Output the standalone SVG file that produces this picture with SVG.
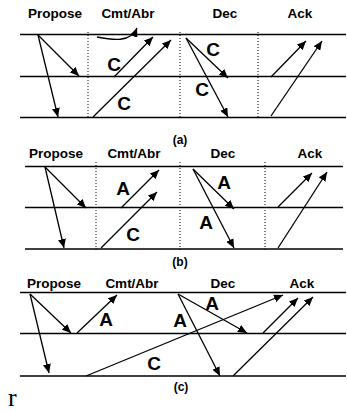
<svg xmlns="http://www.w3.org/2000/svg" width="347" height="411" viewBox="0 0 347 411">
<style>
.lbl{font-family:"Liberation Sans",Arial,sans-serif;font-weight:bold;font-size:13.5px;fill:#000}
.big{font-family:"Liberation Sans",Arial,sans-serif;font-weight:bold;font-size:19px;fill:#000}
.cap{font-family:"Liberation Sans",Arial,sans-serif;font-weight:bold;font-size:12px;fill:#000}
.hl{stroke:#000;stroke-width:1.6;fill:none}
.dl{stroke:#000;stroke-width:1;stroke-dasharray:1 2;fill:none}
.ar{stroke:#000;stroke-width:1.3;fill:none;marker-end:url(#ah)}
</style>
<defs>
<marker id="ah" markerUnits="userSpaceOnUse" markerWidth="10" markerHeight="8" refX="9" refY="4" orient="auto">
<path d="M0,0 L9,4 L0,8 Z" fill="#000"/>
</marker>
</defs>
<rect width="347" height="411" fill="#fff"/>

<g id="panel-a">
<text class="lbl" x="55" y="18" text-anchor="middle">Propose</text>
<text class="lbl" x="128" y="18" text-anchor="middle">Cmt/Abr</text>
<text class="lbl" x="225" y="18" text-anchor="middle">Dec</text>
<text class="lbl" x="300" y="18" text-anchor="middle">Ack</text>
<line class="hl" x1="20" y1="34.5" x2="346" y2="34.5"/>
<line class="hl" x1="20" y1="76.5" x2="346" y2="76.5"/>
<line class="hl" x1="20" y1="117.5" x2="346" y2="117.5"/>
<line class="dl" x1="88" y1="32" x2="88" y2="119"/>
<line class="dl" x1="180" y1="32" x2="180" y2="119"/>
<line class="dl" x1="258" y1="32" x2="258" y2="119"/>
<text class="big" x="114" y="71" text-anchor="middle">C</text>
<text class="big" x="124" y="110" text-anchor="middle">C</text>
<text class="big" x="213" y="56" text-anchor="middle">C</text>
<text class="big" x="202" y="96" text-anchor="middle">C</text>
<text class="cap" x="180" y="144" text-anchor="middle">(a)</text>
</g>

<g id="panel-b">
<text class="lbl" x="56" y="158" text-anchor="middle">Propose</text>
<text class="lbl" x="134" y="158" text-anchor="middle">Cmt/Abr</text>
<text class="lbl" x="223" y="158" text-anchor="middle">Dec</text>
<text class="lbl" x="310" y="158" text-anchor="middle">Ack</text>
<line class="hl" x1="25" y1="166.5" x2="343" y2="166.5"/>
<line class="hl" x1="25" y1="207.5" x2="343" y2="207.5"/>
<line class="hl" x1="25" y1="249" x2="343" y2="249"/>
<line class="dl" x1="96" y1="162" x2="96" y2="252"/>
<line class="dl" x1="180" y1="162" x2="180" y2="252"/>
<line class="dl" x1="265" y1="162" x2="265" y2="252"/>
<text class="big" x="123" y="195" text-anchor="middle">A</text>
<text class="big" x="133" y="241" text-anchor="middle">C</text>
<text class="big" x="224" y="189" text-anchor="middle">A</text>
<text class="big" x="206" y="229" text-anchor="middle">A</text>
<text class="cap" x="180" y="266" text-anchor="middle">(b)</text>
</g>

<g id="panel-c">
<text class="lbl" x="54" y="288" text-anchor="middle">Propose</text>
<text class="lbl" x="132" y="288" text-anchor="middle">Cmt/Abr</text>
<text class="lbl" x="223" y="288" text-anchor="middle">Dec</text>
<text class="lbl" x="302" y="288" text-anchor="middle">Ack</text>
<line class="hl" x1="20" y1="292.5" x2="346" y2="292.5"/>
<line class="hl" x1="20" y1="333.5" x2="346" y2="333.5"/>
<line class="hl" x1="20" y1="376" x2="346" y2="376"/>
<text class="big" x="106" y="326" text-anchor="middle">A</text>
<text class="big" x="154" y="370" text-anchor="middle">C</text>
<text class="big" x="212" y="310" text-anchor="middle">A</text>
<text class="big" x="180" y="327" text-anchor="middle">A</text>
<text class="cap" x="181" y="391" text-anchor="middle">(c)</text>
</g>

<text id="stray-r" x="8" y="406" font-family="'Liberation Serif','Times New Roman',serif" font-size="26" fill="#000">r</text>

<g id="connectors">
<!-- panel a -->
<line class="ar" x1="38" y1="35" x2="79" y2="76"/>
<line class="ar" x1="38" y1="35" x2="58" y2="117"/>
<path class="ar" d="M97,37 C112,40 131,43 137,28"/>
<line class="ar" x1="114" y1="77" x2="153" y2="37"/>
<line class="ar" x1="93" y1="117" x2="171" y2="40"/>
<line class="ar" x1="186" y1="38" x2="228" y2="78"/>
<line class="ar" x1="186" y1="38" x2="228" y2="117"/>
<line class="ar" x1="271" y1="77" x2="306" y2="41"/>
<line class="ar" x1="271" y1="116" x2="322" y2="41"/>
<!-- panel b -->
<line class="ar" x1="45" y1="167" x2="86" y2="208"/>
<line class="ar" x1="45" y1="167" x2="64" y2="248"/>
<line class="ar" x1="121" y1="208" x2="159" y2="170"/>
<line class="ar" x1="101" y1="248" x2="157" y2="192"/>
<line class="ar" x1="193" y1="169" x2="234" y2="209"/>
<line class="ar" x1="193" y1="169" x2="234" y2="248"/>
<line class="ar" x1="278" y1="207" x2="312" y2="173"/>
<line class="ar" x1="278" y1="248" x2="327" y2="172"/>
<!-- panel c -->
<line class="ar" x1="30" y1="294" x2="71" y2="333"/>
<line class="ar" x1="30" y1="294" x2="49" y2="373"/>
<line class="ar" x1="77" y1="333" x2="117" y2="295"/>
<line class="ar" x1="86" y1="376" x2="283" y2="295"/>
<line class="ar" x1="178" y1="294" x2="247" y2="333"/>
<line class="ar" x1="178" y1="294" x2="220" y2="376"/>
<line class="ar" x1="263" y1="333" x2="298" y2="298"/>
<line class="ar" x1="233" y1="376" x2="313" y2="297"/>
</g>
</svg>
